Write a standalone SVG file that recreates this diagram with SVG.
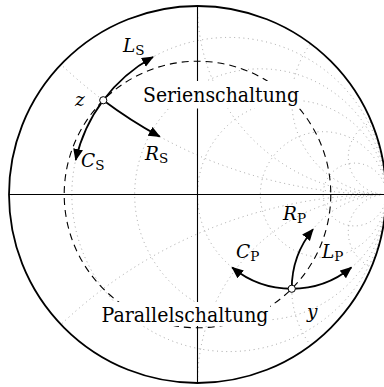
<svg xmlns="http://www.w3.org/2000/svg" width="384" height="387" viewBox="0 0 384 387">
<defs>
<style>
.grid{fill:none;stroke:#999;stroke-width:0.9;stroke-dasharray:1 3.6}
.dash{fill:none;stroke:#000;stroke-width:1.1;stroke-dasharray:7 5}
.axis{stroke:#000;stroke-width:1.1}
.outer{fill:none;stroke:#000;stroke-width:1.8}
.arr{fill:none;stroke:#000;stroke-width:1.8;marker-end:url(#ah)}
.pt{fill:#fff;stroke:#000;stroke-width:1}
.lbl{font-family:'DejaVu Serif','Liberation Serif',serif;font-size:20px;fill:#000}
.m{font-family:'DejaVu Serif','Liberation Serif',serif;font-size:18.5px;font-style:italic;fill:#000}
.sub{font-style:normal;font-size:13.5px}
.bg{fill:#fff}
</style>
<marker id="ah" markerUnits="userSpaceOnUse" markerWidth="14" markerHeight="12" refX="11" refY="5" orient="auto">
<path d="M0,0 L12,5 L0,10 z" fill="#000"/>
</marker>
<clipPath id="disk"><circle cx="197.5" cy="194.5" r="188.5"/></clipPath>
</defs>
<g id="grid" class="grid" clip-path="url(#disk)">
<circle cx="228.92" cy="194.5" r="157.08"/>
<circle cx="260.33" cy="194.5" r="125.67"/>
<circle cx="291.75" cy="194.5" r="94.25"/>
<circle cx="323.17" cy="194.5" r="62.83"/>
<circle cx="354.58" cy="194.5" r="31.42"/>
<circle cx="386" cy="-276.75" r="471.25"/>
<circle cx="386" cy="665.75" r="471.25"/>
<circle cx="386" cy="6" r="188.5"/>
<circle cx="386" cy="383" r="188.5"/>
<circle cx="386" cy="100.25" r="94.25"/>
<circle cx="386" cy="288.75" r="94.25"/>
<circle cx="386" cy="156.8" r="37.7"/>
<circle cx="386" cy="232.2" r="37.7"/>
</g>
<g id="chart">
<circle class="dash" cx="197.5" cy="194.5" r="133.29"/>
<line class="axis" x1="9" y1="194.5" x2="384" y2="194.5"/>
<line class="axis" x1="197.5" y1="6" x2="197.5" y2="383"/>
<circle class="outer" cx="197.5" cy="194.5" r="188.5"/>
</g>
<g id="serien">
<rect class="bg" x="139" y="81" width="164" height="27.5"/>
<text class="lbl" x="143" y="102" textLength="156" lengthAdjust="spacingAndGlyphs">Serienschaltung</text>
</g>
<g id="parallel">
<rect class="bg" x="98" y="302" width="172" height="24"/>
<text class="lbl" x="101.5" y="322" textLength="167" lengthAdjust="spacingAndGlyphs">Parallelschaltung</text>
</g>
<g id="connectors">
<path class="arr" d="M103.25,100.25 A157.08,157.08 0 0 1 153,57"/>
<path class="arr" d="M103.25,100.25 A157.08,157.08 0 0 0 75.7,160"/>
<path class="arr" d="M103.25,100.25 A471.25,471.25 0 0 0 159.7,136.6"/>
<path class="arr" d="M291.75,288.75 A94.25,94.25 0 0 1 232.15,267.5"/>
<path class="arr" d="M291.75,288.75 A94.25,94.25 0 0 0 351.35,267.5"/>
<path class="arr" d="M291.75,288.75 A94.25,94.25 0 0 1 313,229.2"/>
</g>
<g id="z">
<circle class="pt" cx="103.25" cy="100.25" r="3.6"/>
<text class="m" x="75" y="106">z</text>
</g>
<g id="y">
<circle class="pt" cx="291.75" cy="288.75" r="3.6"/>
<text class="m" x="307" y="318">y</text>
</g>
<g id="labels">
<text class="m" x="123" y="52">L<tspan class="sub" dy="2.5">S</tspan></text>
<text class="m" x="81" y="167">C<tspan class="sub" dy="2.5">S</tspan></text>
<text class="m" x="145" y="159.5">R<tspan class="sub" dy="3">S</tspan></text>
<text class="m" x="283" y="220">R<tspan class="sub" dy="2.5">P</tspan></text>
<text class="m" x="236" y="258">C<tspan class="sub" dy="2.5">P</tspan></text>
<text class="m" x="322" y="258">L<tspan class="sub" dy="2.5">P</tspan></text>
</g>
</svg>
